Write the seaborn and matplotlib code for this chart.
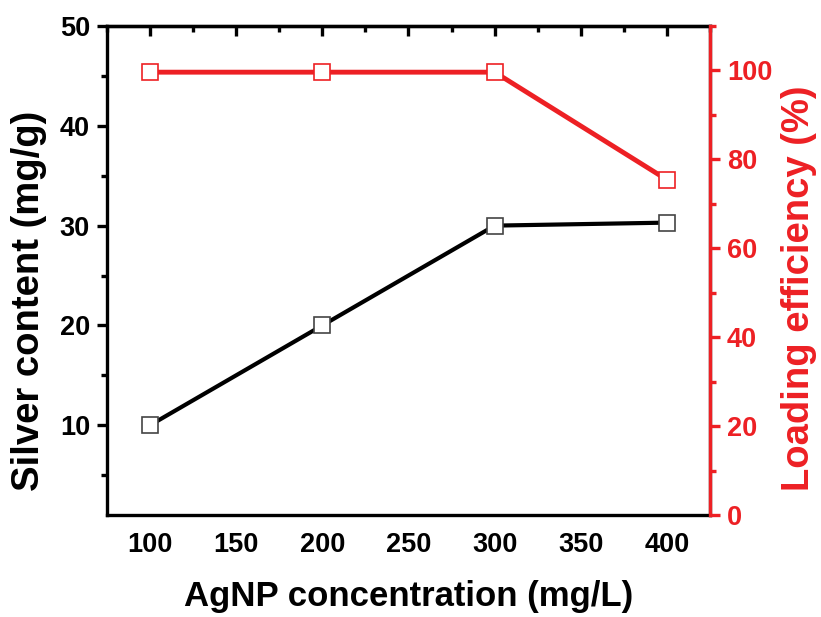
import numpy as np
import pandas as pd
import matplotlib
matplotlib.use('Agg')
import matplotlib.pyplot as plt
from matplotlib.ticker import MultipleLocator
import seaborn as sns

# --- data ---
conc = [100, 200, 300, 400]
silver = [10.0, 20.0, 30.0, 30.3]
loading = [99.6, 99.6, 99.6, 75.4]

RED = '#ed2024'

sns.set_style('white')
plt.rcParams['font.family'] = ['Liberation Sans', 'DejaVu Sans']
plt.rcParams['font.weight'] = 'bold'
plt.rcParams['text.color'] = 'black'
plt.rcParams['axes.labelcolor'] = 'black'
plt.rcParams['xtick.color'] = 'black'
plt.rcParams['ytick.color'] = 'black'

df = pd.DataFrame({'conc': conc, 'silver': silver, 'loading': loading})

fig = plt.figure(figsize=(8.21, 6.17), dpi=100)
ax = fig.add_axes([0.130, 0.165, 0.735, 0.793])
ax2 = ax.twinx()

sns.lineplot(data=df, x='conc', y='silver', ax=ax, color='black', lw=3,
             marker='s', markersize=11, markerfacecolor='white',
             markeredgecolor='#444444', markeredgewidth=1.2, zorder=3)
sns.lineplot(data=df, x='conc', y='loading', ax=ax2, color=RED, lw=3.5,
             marker='s', markersize=11, markerfacecolor='white',
             markeredgecolor=RED, markeredgewidth=1.2, zorder=3)

ax.set_xlim(75, 425)
ax.set_ylim(1, 50)
ax2.set_ylim(0, 110)

ax.xaxis.set_major_locator(MultipleLocator(50))
ax.xaxis.set_minor_locator(MultipleLocator(25))
ax.yaxis.set_major_locator(MultipleLocator(10))
ax.yaxis.set_minor_locator(MultipleLocator(5))
ax2.yaxis.set_major_locator(MultipleLocator(20))
ax2.yaxis.set_minor_locator(MultipleLocator(10))

for sp in ax.spines.values():
    sp.set_linewidth(2.4)
    sp.set_color('black')
for name, sp in ax2.spines.items():
    sp.set_linewidth(2.4)
    sp.set_color(RED if name == 'right' else 'black')
ax2.spines['left'].set_visible(False)
ax2.spines['top'].set_visible(False)
ax2.spines['bottom'].set_visible(False)

ax.tick_params(axis='both', which='major', direction='out', length=7, width=2.4,
               labelsize=19.5, color='black', labelcolor='black', pad=5)
ax.tick_params(axis='both', which='minor', direction='out', length=4, width=2.4,
               color='black')
ax.tick_params(axis='y', right=False)
ax2.tick_params(axis='y', which='major', direction='out', length=7, width=2.4,
                labelsize=19.5, colors=RED, pad=5)
ax2.tick_params(axis='y', which='minor', direction='out', length=4, width=2.4,
                colors=RED)

# inward ticks on the top spine
top = ax.secondary_xaxis('top')
top.xaxis.set_major_locator(MultipleLocator(50))
top.xaxis.set_minor_locator(MultipleLocator(25))
top.tick_params(which='major', direction='in', length=7, width=2.4, labeltop=False)
top.tick_params(which='minor', direction='in', length=4, width=2.4)
top.spines['top'].set_linewidth(2.4)

for lab in ax.get_xticklabels() + ax.get_yticklabels() + ax2.get_yticklabels():
    lab.set_fontweight('bold')

ax.set_xlabel('AgNP concentration (mg/L)', fontsize=25, fontweight='bold')
ax.set_ylabel('Silver content (mg/g)', fontsize=27.5, fontweight='bold')
ax2.set_ylabel('Loading efficiency (%)', fontsize=27.5, fontweight='bold', color=RED)

# label placement (centres, in axes fractions)
ax.xaxis.label.set_va('center')
ax.xaxis.set_label_coords(0.5, -0.167)
ax.yaxis.label.set_va('center')
ax.yaxis.set_label_coords(-0.128, 0.438)
ax2.yaxis.label.set_va('center')
ax2.yaxis.set_label_coords(1.148, 0.464)

fig.savefig('out.png', dpi=100)
